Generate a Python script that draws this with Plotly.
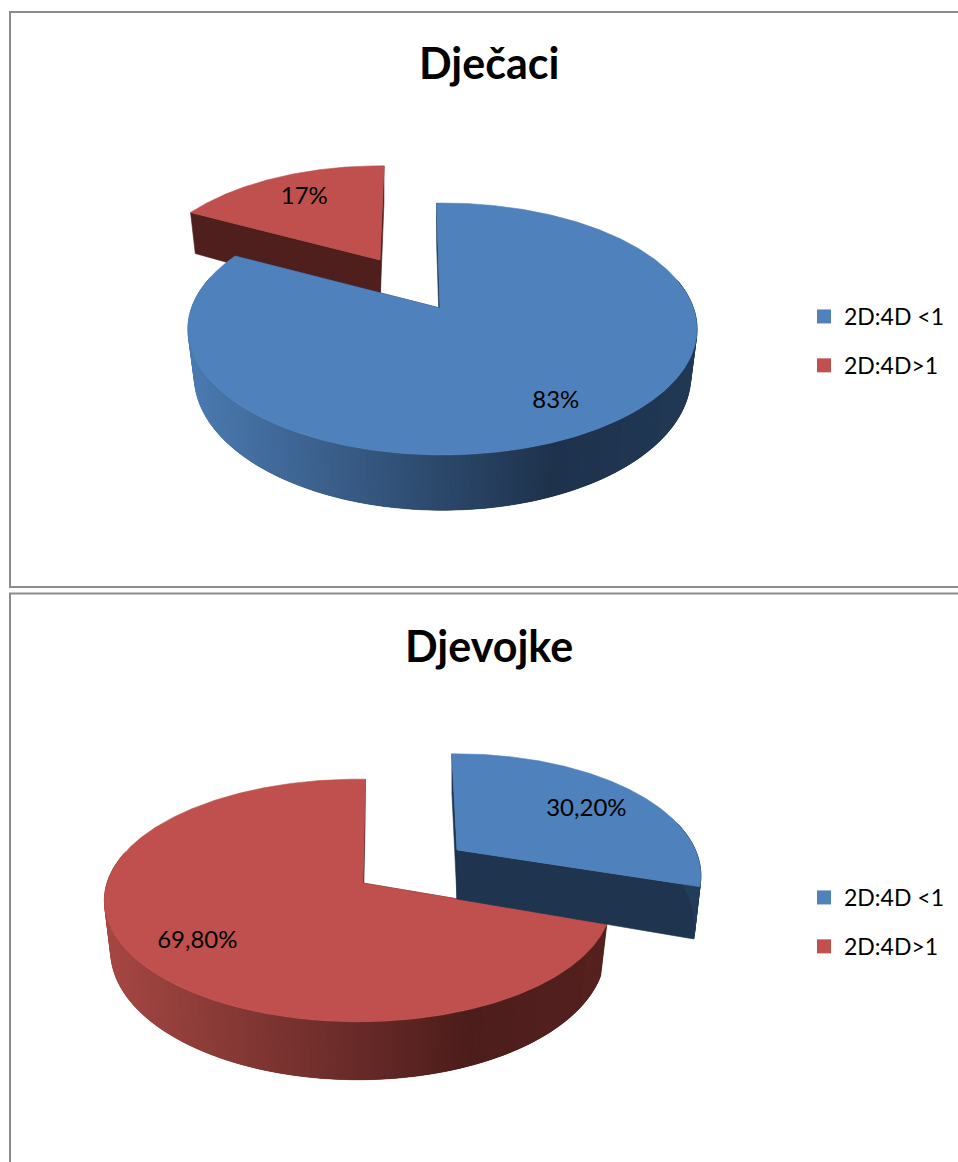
import math
import plotly.graph_objects as go

# ---- data ----
categories = ["2D:4D <1", "2D:4D>1"]
boys_values = [83, 17]
girls_values = [30.2, 69.8]
boys_labels = ["83%", "17%"]
girls_labels = ["30,20%", "69,80%"]
titles = ["Dječaci", "Djevojke"]

# ---- styles ----
W, H = 958, 1162
TOP = {0: "#4F81BD", 1: "#C0504D"}
WALL = {0: "#1F344E", 1: "#4F1F1D"}
LIGHT = {0: (76, 123, 178), 1: (166, 72, 68)}
DARK = {0: (30, 50, 76), 1: (77, 30, 28)}
A, B = 251.0, 122.5
SHRINK = 0.975
FONT = "Lato"

fig = go.Figure()


def project(geo, f, deg, drop=False):
    t = math.radians(deg)
    s = 1 / (1 + geo["k"] * f * math.cos(t))
    ox = geo["ax"] + (geo["cx"] - geo["ax"]) * f
    x = ox + geo["scale"] * geo.get("wide", 1.0) * A * f * math.sin(t) * s
    y = geo["ay"] - geo["scale"] * geo.get("tall", 1.0) * B * f * math.cos(t) * s
    if drop:
        x = geo["cx"] + (x - geo["cx"]) * SHRINK
        y += geo["depth"] * s
    return x, y


def poly(xs, ys, color, width=0.6):
    fig.add_trace(go.Scatter(
        x=xs + xs[:1], y=ys + ys[:1], mode="lines", fill="toself", fillcolor=color,
        line=dict(color=color, width=width), hoverinfo="skip", showlegend=False))


def rim_color(series, x, xl, xr):
    p = (x - xl) / (xr - xl)
    if p < 0.72:
        m = p / 0.72
    else:
        m = 1 - 0.1 * (p - 0.72) / 0.28
    return "rgb(%d,%d,%d)" % tuple(
        round(LIGHT[series][i] + (DARK[series][i] - LIGHT[series][i]) * m) for i in range(3))


def slice3d(series, geo, start, end, xl, xr):
    step = 0.5
    steps = max(int(abs(end - start) / step), 2)
    angs = [start + (end - start) * i / steps for i in range(steps + 1)]
    for deg in (start, end):
        o = project(geo, 1, deg)
        o2 = project(geo, 1, deg, True)
        i2 = project(geo, 0, deg, True)
        poly([geo["ax"], o[0], o2[0], i2[0]], [geo["ay"], o[1], o2[1], i2[1]], WALL[series])
    # outer rim: each strip runs under the next one, so no seams show
    for j in range(len(angs) - 1):
        a0, a1 = angs[j], angs[min(j + 3, len(angs) - 1)]
        if math.cos(math.radians(angs[j])) > 0.25:
            continue
        mid = project(geo, 1, angs[j])[0]
        p0, p1 = project(geo, 1, a0), project(geo, 1, a1)
        q1, q0 = project(geo, 1, a1, True), project(geo, 1, a0, True)
        poly([p0[0], p1[0], q1[0], q0[0]], [p0[1], p1[1], q1[1], q0[1]],
             rim_color(series, mid, xl, xr), 0.2)
    pts = [project(geo, 1, d) for d in angs]
    poly([geo["ax"]] + [p[0] for p in pts], [geo["ay"]] + [p[1] for p in pts], TOP[series])


def label(geo, deg, f, text):
    x, y = project(geo, f, deg)
    fig.add_trace(go.Scatter(
        x=[x], y=[y], mode="text", text=[text], textposition="middle center",
        textfont=dict(family=FONT, size=24, color="#000000"),
        hoverinfo="skip", showlegend=False))


# ---- upper chart: the small slice is pulled out, drawn behind ----
b_end = boys_values[0] * 3.6
g_red = dict(ax=380, ay=260, cx=380, k=0.21, scale=0.93, depth=45)
g_blue = dict(ax=440, ay=308, cx=442.5, k=1 / 6, scale=1.0, depth=46)
slice3d(1, g_red, b_end - 1.6, 361.2, 187, 698)
slice3d(0, g_blue, -1.6, b_end - 1.6, 187, 698)
label(g_blue, b_end / 2, 0.79, boys_labels[0])
label(g_red, b_end + boys_values[1] * 1.8, 0.72, boys_labels[1])

# ---- lower chart: the blue slice is pulled out, drawn in front ----
g_end = girls_values[0] * 3.6
g2_red = dict(ax=363, ay=883, cx=358, k=0.144, scale=1.0, wide=1.0, tall=0.97, depth=49.6)
g2_blue = dict(ax=457, ay=850, cx=457, k=0.21, scale=0.95, depth=49)
slice3d(1, g2_red, g_end + 0.5, 361.9, 105, 610)
slice3d(0, g2_blue, -1.5, g_end - 1.5, 105, 610)
label(g2_blue, g_end / 2 + 3, 0.695, girls_labels[0])
label(g2_red, g_end + girls_values[1] * 1.8 - 2, 0.76, girls_labels[1])

# ---- legends ----
for leg in ("legend", "legend2"):
    for i, name in enumerate(categories):
        fig.add_trace(go.Scatter(
            x=[None], y=[None], mode="markers", name=name, legend=leg,
            legendgroup=f"{leg}{i}", hoverinfo="skip",
            marker=dict(symbol="square", size=14, color=TOP[i])))

legend_style = dict(
    xanchor="left", yanchor="top", bgcolor="rgba(0,0,0,0)", borderwidth=0,
    font=dict(family=FONT, size=23, color="#000000"),
    tracegroupgap=16, itemsizing="trace", itemclick=False, itemdoubleclick=False)

fig.update_layout(
    width=W, height=H, margin=dict(l=0, r=0, t=0, b=0),
    paper_bgcolor="#FFFFFF", plot_bgcolor="#FFFFFF", showlegend=True,
    xaxis=dict(range=[0, W], visible=False, fixedrange=True),
    yaxis=dict(range=[H, 0], visible=False, fixedrange=True),
    legend=dict(x=804 / W, y=1 - 295 / H, **legend_style),
    legend2=dict(x=804 / W, y=1 - 876 / H, **legend_style),
    annotations=[
        dict(x=489, y=62, xref="x", yref="y", text=f"<b>{titles[0]}</b>", showarrow=False,
             font=dict(family=FONT, size=43, color="#000000")),
        dict(x=489, y=645, xref="x", yref="y", text=f"<b>{titles[1]}</b>", showarrow=False,
             font=dict(family=FONT, size=43, color="#000000")),
    ],
    shapes=[
        dict(type="rect", xref="x", yref="y", x0=10, y0=12, x1=962, y1=587,
             line=dict(color="#8C8C8C", width=2), layer="below"),
        dict(type="rect", xref="x", yref="y", x0=10, y0=593.5, x1=962, y1=1170,
             line=dict(color="#8C8C8C", width=2), layer="below"),
    ],
)

fig.write_html("out.html", config=dict(displayModeBar=False),
               post_script="document.body.style.margin='0';document.documentElement.style.overflow='hidden';")
